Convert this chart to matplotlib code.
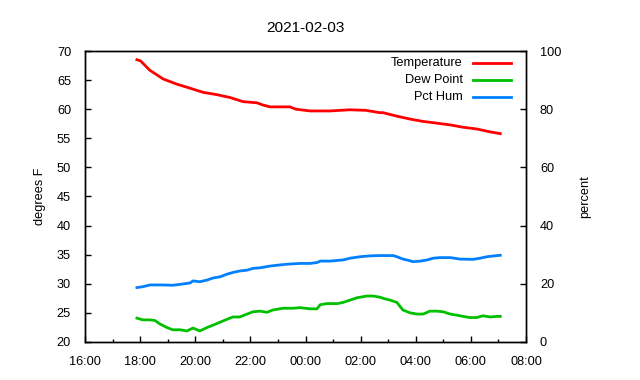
import datetime as dt
import matplotlib
matplotlib.use('Agg')
import matplotlib.pyplot as plt
import matplotlib.dates as mdates

plt.rcParams['font.family'] = ['Liberation Sans', 'DejaVu Sans']
plt.rcParams['font.size'] = 9.2

# Readings (times after midnight belong to the next day)
temp_times = ['17:53', '18:01', '18:21', '18:50', '19:20', '19:49', '20:17', '20:47',
              '21:16', '21:44', '21:59', '22:14', '22:28', '22:43', '23:26', '23:39',
              '00:10', '00:53', '01:37', '02:12', '02:42', '02:49', '03:19', '03:48',
              '04:16', '04:46', '05:15', '05:43', '06:13', '06:42', '07:04']
temp_vals = [68.5, 68.3, 66.7, 65.2, 64.3, 63.6, 62.9, 62.5,
             62.0, 61.3, 61.2, 61.1, 60.7, 60.4, 60.4, 60.0,
             59.7, 59.7, 59.9, 59.8, 59.4, 59.4, 58.8, 58.3,
             57.9, 57.6, 57.3, 56.9, 56.6, 56.1, 55.8]

dew_times = ['17:53', '18:06', '18:21', '18:32', '18:43', '18:58', '19:11', '19:27',
             '19:42', '19:55', '20:10', '20:26', '20:39', '20:54', '21:09', '21:22',
             '21:37', '21:53', '22:06', '22:21', '22:36', '22:49', '23:11', '23:33',
             '23:48', '00:10', '00:25', '00:32', '00:47', '01:09', '01:22', '01:37',
             '01:52', '02:14', '02:27', '02:42', '02:49', '03:04', '03:19', '03:26',
             '03:32', '03:48', '04:03', '04:16', '04:31', '04:46', '04:59', '05:15',
             '05:30', '05:43', '05:58', '06:13', '06:26', '06:42', '06:57', '07:04']
dew_vals = [24.1, 23.8, 23.8, 23.7, 23.1, 22.5, 22.1, 22.1,
            21.9, 22.4, 21.9, 22.5, 22.9, 23.4, 23.9, 24.3,
            24.3, 24.8, 25.2, 25.3, 25.1, 25.5, 25.8, 25.8,
            25.9, 25.7, 25.7, 26.4, 26.6, 26.6, 26.8, 27.2,
            27.6, 27.9, 27.9, 27.7, 27.5, 27.2, 26.8, 26.1,
            25.5, 25.0, 24.8, 24.8, 25.3, 25.3, 25.2, 24.8,
            24.6, 24.4, 24.2, 24.2, 24.5, 24.3, 24.4, 24.4]

hum_times = ['17:53', '18:06', '18:21', '18:50', '19:11', '19:27', '19:49', '19:55',
             '20:10', '20:26', '20:39', '20:54', '21:09', '21:22', '21:37', '21:53',
             '22:06', '22:21', '22:43', '23:05', '23:26', '23:48', '00:10', '00:25',
             '00:32', '00:53', '01:22', '01:37', '01:59', '02:20', '02:42', '03:11',
             '03:19', '03:32', '03:48', '03:54', '04:10', '04:25', '04:38', '04:53',
             '05:15', '05:36', '06:05', '06:20', '06:35', '06:57', '07:04']
hum_vals = [18.7, 19.0, 19.6, 19.6, 19.5, 19.8, 20.3, 21.0,
            20.7, 21.3, 22.0, 22.4, 23.3, 23.9, 24.4, 24.7,
            25.3, 25.5, 26.1, 26.5, 26.8, 27.0, 27.0, 27.3,
            27.8, 27.8, 28.2, 28.8, 29.3, 29.6, 29.7, 29.7,
            29.3, 28.5, 27.9, 27.6, 27.8, 28.2, 28.8, 29.0,
            29.0, 28.5, 28.4, 28.8, 29.3, 29.7, 29.8]

DAY = dt.datetime(2021, 2, 3)


def to_dt(s):
    h, m = map(int, s.split(':'))
    t = DAY + dt.timedelta(hours=h, minutes=m)
    if h < 12:
        t += dt.timedelta(days=1)
    return t


series = [
    ('Temperature', temp_times, temp_vals, '#ff0000'),
    ('Dew Point', dew_times, dew_vals, '#00c000'),
    ('Pct Hum', hum_times, hum_vals, '#0080ff'),
]

fig = plt.figure(figsize=(6.4, 3.8), dpi=100)
ax = fig.add_axes([85 / 640, 38 / 380, 441 / 640, 291 / 380])
ax2 = ax.twinx()

for name, times, vals, color in series:
    target = ax2 if name == 'Pct Hum' else ax
    target.plot([to_dt(t) for t in times], vals, color=color, lw=2)

ax.set_xlim(DAY + dt.timedelta(hours=16), DAY + dt.timedelta(hours=32))
ax.set_ylim(20, 70)
ax.set_yticks(range(20, 71, 5))
ax2.set_ylim(0, 100)
ax2.set_yticks(range(0, 101, 20))

ax.xaxis.set_major_locator(mdates.HourLocator(interval=2))
ax.xaxis.set_minor_locator(mdates.HourLocator())
ax.xaxis.set_major_formatter(mdates.DateFormatter('%H:%M'))

ax.tick_params(axis='both', which='major', direction='in', length=4.5, width=1, pad=10)
ax.tick_params(axis='x', which='minor', direction='in', length=2.2, width=1)
ax2.tick_params(axis='y', which='major', direction='in', length=4.5, width=1, pad=10)

for a in (ax, ax2):
    for sp in a.spines.values():
        sp.set_linewidth(1)

ax.set_ylabel('degrees F', labelpad=8)
ax2.set_ylabel('percent', labelpad=13)
ax.set_title('2021-02-03', pad=14)

# legend drawn gnuplot-style: text right aligned, sample line after it
rows = [0.959, 0.900, 0.842]
for (name, _, _, color), y in zip(series, rows):
    ax.text(0.857, y, name, transform=ax.transAxes, ha='right', va='center')
    ax.plot([0.880, 0.966], [y, y], transform=ax.transAxes, color=color, lw=2)

fig.savefig('out.png', dpi=100)
